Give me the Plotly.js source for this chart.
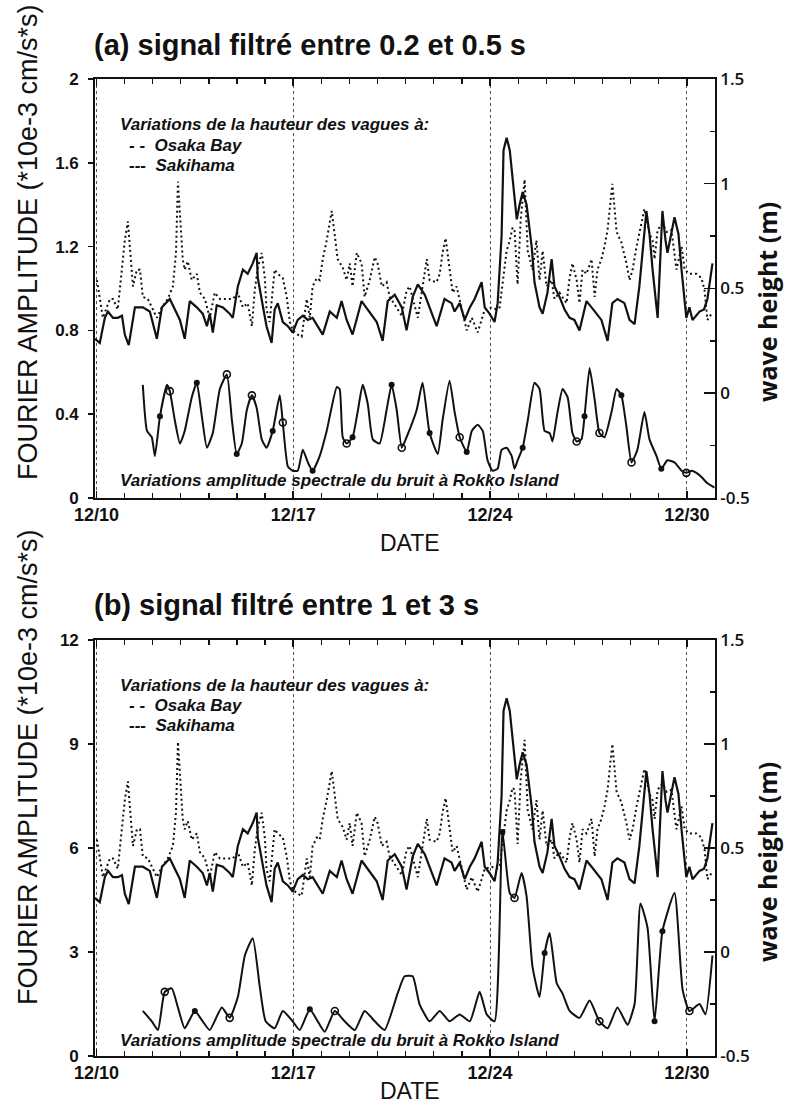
<!DOCTYPE html>
<html>
<head>
<meta charset="utf-8">
<script src="https://cdn.plot.ly/plotly-3.0.1.min.js"></script>
<style>
  html, body { margin: 0; padding: 0; background: #fff; }
  #chart { width: 793px; height: 1110px; }
</style>
</head>
<body>
<div id="chart"></div>
<script>
// Day of December (fractional) for every sample
const dateTickDays = [10, 17, 24, 31];
const dateTickText = ['12/10', '12/17', '12/24', '12/30'];

// Wave height at Sakihama (m)
const sakiDays = [9.95,10.12,10.30,10.41,10.59,10.76,10.91,11.01,11.15,11.37,11.65,11.90,12.15,12.33,12.61,12.97,13.14,13.32,13.57,13.78,13.93,14.03,14.14,14.28,14.50,14.74,14.85,15.03,15.21,15.38,15.56,15.70,15.74,15.91,16.05,16.23,16.34,16.45,16.63,16.81,16.98,17.16,17.34,17.52,17.69,18.05,18.30,18.55,18.72,18.90,19.11,19.43,19.65,19.97,20.18,20.36,20.61,20.86,21.03,21.25,21.43,21.68,22.10,22.38,22.63,22.74,22.92,23.10,23.28,23.45,23.70,23.81,23.98,24.16,24.27,24.41,24.48,24.59,24.70,24.84,24.95,25.05,25.16,25.30,25.48,25.58,25.76,25.87,26.04,26.19,26.29,26.47,26.65,26.83,27.00,27.18,27.43,27.61,27.79,27.96,28.18,28.35,28.53,28.78,28.96,29.14,29.31,29.49,29.56,29.67,29.78,29.96,30.13,30.24,30.31,30.56,30.70,30.81,30.98,31.09,31.20,31.45,31.61,31.73,31.91];
const sakiHeight = [0.26,0.24,0.36,0.39,0.36,0.36,0.37,0.28,0.23,0.41,0.41,0.39,0.26,0.41,0.45,0.35,0.26,0.44,0.41,0.38,0.32,0.38,0.29,0.42,0.41,0.38,0.36,0.51,0.59,0.57,0.62,0.67,0.55,0.43,0.32,0.24,0.40,0.43,0.34,0.32,0.29,0.35,0.37,0.35,0.36,0.28,0.39,0.36,0.44,0.35,0.28,0.44,0.40,0.34,0.25,0.44,0.47,0.41,0.30,0.46,0.52,0.47,0.32,0.45,0.43,0.39,0.43,0.35,0.41,0.45,0.53,0.41,0.38,0.34,0.43,0.75,1.16,1.22,1.16,0.97,0.83,0.90,0.96,0.90,0.70,0.53,0.41,0.38,0.48,0.64,0.51,0.46,0.40,0.36,0.35,0.30,0.44,0.41,0.38,0.35,0.25,0.43,0.45,0.43,0.35,0.33,0.51,0.79,0.87,0.76,0.59,0.36,0.87,0.73,0.67,0.84,0.76,0.59,0.36,0.41,0.35,0.39,0.40,0.45,0.62];

// Wave height at Osaka Bay (m)
const osakaDays = [10.02,10.23,10.48,10.59,10.76,10.91,11.01,11.12,11.19,11.30,11.44,11.55,11.65,11.83,12.01,12.15,12.33,12.54,12.72,12.83,12.90,13.00,13.07,13.14,13.25,13.39,13.57,13.68,13.86,14.03,14.21,14.39,14.64,14.85,15.03,15.21,15.38,15.53,15.63,15.74,15.88,15.99,16.05,16.16,16.34,16.45,16.63,16.77,16.88,16.98,17.16,17.30,17.48,17.59,17.69,17.84,17.94,18.05,18.19,18.30,18.37,18.48,18.58,18.76,18.90,19.01,19.11,19.26,19.43,19.54,19.72,19.90,20.00,20.15,20.32,20.43,20.68,20.86,21.03,21.14,21.43,21.60,21.75,21.85,22.10,22.21,22.31,22.42,22.56,22.67,22.81,22.99,23.17,23.35,23.56,23.70,23.81,24.06,24.23,24.34,24.45,24.59,24.70,24.80,24.87,24.98,25.09,25.23,25.34,25.51,25.65,25.76,25.87,26.01,26.19,26.29,26.47,26.72,26.83,26.93,27.08,27.18,27.29,27.43,27.61,27.72,27.82,27.96,28.07,28.18,28.35,28.50,28.67,28.85,28.96,29.07,29.21,29.31,29.49,29.67,29.78,29.85,29.96,30.13,30.28,30.45,30.63,30.81,30.92,31.09,31.34,31.52,31.63,31.73,31.88];
const osakaHeight = [0.54,0.36,0.45,0.45,0.40,0.60,0.73,0.82,0.70,0.51,0.59,0.59,0.46,0.45,0.40,0.36,0.41,0.45,0.51,0.67,1.01,0.78,0.64,0.59,0.63,0.54,0.57,0.48,0.45,0.36,0.48,0.45,0.45,0.45,0.48,0.41,0.43,0.32,0.49,0.60,0.67,0.55,0.40,0.34,0.59,0.57,0.55,0.46,0.34,0.30,0.28,0.27,0.45,0.36,0.51,0.55,0.54,0.64,0.73,0.81,0.87,0.75,0.64,0.60,0.54,0.62,0.51,0.67,0.62,0.46,0.54,0.65,0.62,0.51,0.53,0.46,0.41,0.37,0.49,0.51,0.36,0.51,0.64,0.54,0.53,0.57,0.67,0.74,0.59,0.48,0.51,0.40,0.30,0.36,0.29,0.35,0.40,0.41,0.40,0.41,0.53,0.68,0.73,0.79,0.78,0.52,0.83,1.02,0.68,0.59,0.73,0.54,0.68,0.51,0.54,0.45,0.48,0.43,0.55,0.62,0.54,0.43,0.59,0.57,0.64,0.46,0.59,0.64,0.70,0.78,1.00,0.77,0.72,0.62,0.54,0.59,0.70,0.77,0.88,0.76,0.73,0.64,0.78,0.81,0.77,0.78,0.59,0.70,0.59,0.57,0.57,0.55,0.49,0.35,0.38];

// Noise spectral amplitude at Rokko Island, band 0.2-0.5 s (*10e-3 cm/s*s)
const rokkoADays = [11.65,11.80,11.97,12.08,12.26,12.51,12.61,12.79,12.97,13.14,13.39,13.57,13.75,13.93,14.14,14.39,14.64,14.82,14.99,15.17,15.35,15.53,15.70,15.88,16.05,16.27,16.52,16.63,16.81,16.98,17.16,17.34,17.52,17.69,17.94,18.19,18.55,18.65,18.76,18.90,19.11,19.29,19.47,19.65,19.83,20.07,20.32,20.50,20.68,20.86,21.03,21.39,21.60,21.85,22.14,22.31,22.56,22.74,22.92,23.17,23.35,23.56,23.74,23.91,24.09,24.27,24.41,24.59,24.77,24.87,24.98,25.16,25.34,25.58,25.76,25.94,26.12,26.22,26.40,26.58,26.76,26.93,27.08,27.25,27.36,27.54,27.72,27.89,28.07,28.32,28.50,28.67,28.85,29.03,29.24,29.49,29.67,29.92,30.09,30.31,30.56,30.81,30.98,31.16,31.34,31.52,31.73,31.98];
const rokkoAAmp = [0.54,0.32,0.29,0.20,0.39,0.54,0.51,0.37,0.26,0.32,0.48,0.55,0.39,0.24,0.31,0.52,0.59,0.37,0.21,0.26,0.42,0.49,0.43,0.28,0.24,0.32,0.49,0.36,0.15,0.13,0.13,0.23,0.17,0.13,0.20,0.32,0.53,0.52,0.29,0.26,0.29,0.41,0.54,0.45,0.28,0.26,0.42,0.54,0.42,0.24,0.29,0.42,0.55,0.31,0.21,0.37,0.56,0.41,0.29,0.22,0.32,0.35,0.32,0.18,0.13,0.14,0.23,0.24,0.20,0.14,0.18,0.24,0.37,0.55,0.52,0.32,0.31,0.27,0.41,0.52,0.48,0.31,0.27,0.28,0.39,0.62,0.47,0.31,0.29,0.41,0.52,0.49,0.34,0.17,0.23,0.41,0.28,0.20,0.14,0.18,0.17,0.13,0.12,0.13,0.12,0.10,0.07,0.05];
const rokkoAOpenDays = [12.61,14.64,15.53,16.63,18.90,20.86,22.92,27.08,27.89,29.03,30.98];
const rokkoAOpenAmp  = [0.51,0.59,0.49,0.36,0.26,0.24,0.29,0.27,0.31,0.17,0.12];
const rokkoAFullDays = [12.26,13.57,14.99,16.27,17.69,19.11,20.50,21.85,23.17,25.16,27.36,28.67,30.09];
const rokkoAFullAmp  = [0.39,0.55,0.21,0.32,0.13,0.29,0.54,0.31,0.22,0.24,0.39,0.49,0.14];

// Noise spectral amplitude at Rokko Island, band 1-3 s (*10e-3 cm/s*s)
const rokkoBDays = [11.65,11.97,12.19,12.43,12.68,12.90,13.14,13.50,13.78,14.03,14.46,14.74,15.03,15.28,15.56,15.81,16.02,16.34,16.63,16.98,17.23,17.59,17.87,18.12,18.48,18.83,19.19,19.54,19.90,20.25,20.71,20.96,21.25,21.49,21.85,22.21,22.56,22.92,23.28,23.63,23.88,24.16,24.44,24.70,24.87,25.12,25.30,25.51,25.76,25.94,26.12,26.37,26.58,26.83,27.18,27.54,27.89,28.18,28.53,28.89,29.14,29.35,29.60,29.85,30.13,30.56,30.85,31.09,31.45,31.66,31.91];
const rokkoBAmp = [1.3,1.0,0.75,1.85,1.95,1.4,0.8,1.3,1.0,0.75,1.4,1.1,1.7,2.9,3.4,2.0,1.0,0.8,1.3,1.0,0.75,1.35,1.0,0.7,1.3,1.0,0.75,1.3,1.0,0.75,1.8,2.3,2.3,1.5,1.0,1.3,1.0,1.2,1.0,1.85,1.2,1.0,6.46,4.7,4.56,5.28,4.6,2.57,1.7,2.97,3.55,2.1,1.8,1.3,1.1,1.6,1.0,0.8,1.4,0.9,1.5,4.4,3.7,1.0,3.6,4.7,1.9,1.3,1.5,1.2,2.9];
const rokkoBOpenDays = [12.43,14.74,18.48,24.87,27.89,31.09];
const rokkoBOpenAmp  = [1.85,1.1,1.3,4.56,1.0,1.3];
const rokkoBFullDays = [13.50,17.59,24.44,25.94,29.85,30.13];
const rokkoBFullAmp  = [1.3,1.35,6.46,2.97,1.0,3.6];

const FONT = 'Liberation Sans, Arial, sans-serif';
const INK = '#111';

function waveTraces(xa, ya) {
  return [
    { x: osakaDays, y: osakaHeight, xaxis: xa, yaxis: ya, type: 'scatter', mode: 'lines',
      name: 'Osaka Bay', line: { color: INK, width: 2, dash: '2px,3px' } },
    { x: sakiDays, y: sakiHeight, xaxis: xa, yaxis: ya, type: 'scatter', mode: 'lines',
      name: 'Sakihama', line: { color: INK, width: 2.2 } }
  ];
}

function noiseTraces(xa, ya, d, v, od, ov, fd, fv) {
  return [
    { x: d, y: v, xaxis: xa, yaxis: ya, type: 'scatter', mode: 'lines', name: 'Rokko Island',
      line: { color: INK, width: 2, shape: 'spline', smoothing: 0.5 } },
    { x: od, y: ov, xaxis: xa, yaxis: ya, type: 'scatter', mode: 'markers',
      marker: { symbol: 'circle-open', size: 7, color: INK, line: { width: 1.6 } } },
    { x: fd, y: fv, xaxis: xa, yaxis: ya, type: 'scatter', mode: 'markers',
      marker: { symbol: 'circle', size: 6, color: INK } }
  ];
}

const data = [].concat(
  noiseTraces('x', 'y', rokkoADays, rokkoAAmp, rokkoAOpenDays, rokkoAOpenAmp, rokkoAFullDays, rokkoAFullAmp),
  waveTraces('x', 'y2'),
  noiseTraces('x2', 'y3', rokkoBDays, rokkoBAmp, rokkoBOpenDays, rokkoBOpenAmp, rokkoBFullDays, rokkoBFullAmp),
  waveTraces('x2', 'y4')
);

function dateAxis(anchor) {
  return {
    anchor: anchor, domain: [0, 1], range: [9.95, 32.0],
    tickmode: 'array', tickvals: dateTickDays, ticktext: dateTickText,
    ticks: 'inside', ticklen: 7, tickwidth: 1.5, tickcolor: INK,
    minor: { dtick: 1, tick0: 10, ticks: 'inside', ticklen: 5, tickwidth: 1.3, tickcolor: INK, showgrid: false },
    showline: true, linecolor: INK, linewidth: 1.8, mirror: 'ticks',
    showgrid: true, gridcolor: '#555', gridwidth: 1, griddash: 'dot',
    zeroline: false, tickfont: { family: FONT, size: 18, color: INK, weight: 'bold' }
  };
}

function ampAxis(domain, range, dtick, anchor) {
  return {
    anchor: anchor, domain: domain, range: range, dtick: dtick, tick0: 0,
    ticks: 'outside', ticklen: 5, tickwidth: 1.5, tickcolor: INK, ticklabelstandoff: 6,
    showline: true, linecolor: INK, linewidth: 1.8,
    showgrid: false, zeroline: false,
    tickfont: { family: FONT, size: 17, color: INK, weight: 'bold' }
  };
}

function heightAxis(overlay, anchor) {
  return {
    anchor: anchor, overlaying: overlay, side: 'right', range: [-0.5, 1.5],
    tickmode: 'array', tickvals: [-0.5, 0, 0.5, 1, 1.5], ticktext: ['-0.5', '0', '0.5', '1', '1.5'],
    ticks: 'inside', ticklen: 11, tickwidth: 1.5, tickcolor: INK,
    minor: { tickmode: 'array', tickvals: [-0.25, 0.25, 0.75, 1.25], ticks: 'inside', ticklen: 5, tickwidth: 1.3, tickcolor: INK },
    showline: true, linecolor: INK, linewidth: 1.8,
    showgrid: false, zeroline: false,
    tickfont: { family: 'Open Sans, sans-serif', size: 17, color: INK, weight: 600 }
  };
}

const layout = {
  width: 793, height: 1110,
  margin: { l: 95, r: 78, t: 0, b: 0 },
  paper_bgcolor: '#fff', plot_bgcolor: '#fff',
  showlegend: false,
  xaxis: dateAxis('y'),
  xaxis2: dateAxis('y3'),
  yaxis: ampAxis([0.55135, 0.92883], [0, 2], 0.4, 'x'),
  yaxis2: heightAxis('y', 'x'),
  yaxis3: ampAxis([0.04865, 0.42342], [0, 12], 3, 'x2'),
  yaxis4: heightAxis('y3', 'x2'),
  annotations: []
};

function note(text, x, y, opts) {
  layout.annotations.push(Object.assign({
    text: text, x: x, y: y, xref: 'paper', yref: 'paper',
    showarrow: false, xanchor: 'left', yanchor: 'middle', borderpad: 0,
    font: { family: FONT, size: 17, color: INK }
  }, opts || {}));
}

// pixel -> paper helpers for placing text around each panel
const px = v => (v - 95) / 620;
const py = v => 1 - v / 1110;

const panels = [
  { title: '(a) signal filtré entre 0.2 et 0.5 s', off: 0, ytitle: 242, date: 543 },
  { title: '(b) signal filtré entre 1 et 3 s', off: 560, ytitle: 767, date: 1091 }
];
panels.forEach(p => {
  const o = p.off;
  note('<b>' + p.title + '</b>', px(93), py(45 + o), { font: { family: FONT, size: 29, color: INK } });
  note('DATE', px(410), py(p.date), { xanchor: 'center', font: { family: FONT, size: 23, color: INK } });
  note('FOURIER AMPLITUDE (*10e-3 cm/s*s)', px(28), py(p.ytitle),
       { xanchor: 'center', textangle: -90, font: { family: FONT, size: 27, color: INK } });
  note('<b>wave height (m)</b>', px(767), py(302 + o), { xanchor: 'center', textangle: -90,
       font: { family: 'Open Sans, sans-serif', size: 25, color: INK } });
  note('<b><i>Variations de la hauteur des vagues à:</i></b>', px(119), py(125 + o));
  note('<b><i>- -  Osaka Bay</i></b>', px(128), py(145 + o));
  note('<b><i>---  Sakihama</i></b>', px(128), py(165 + o));
  note('<b><i>Variations amplitude spectrale du bruit à Rokko Island</i></b>', px(119), py(480 + o));
});

Plotly.newPlot('chart', data, layout, { staticPlot: true });
</script>
</body>
</html>
